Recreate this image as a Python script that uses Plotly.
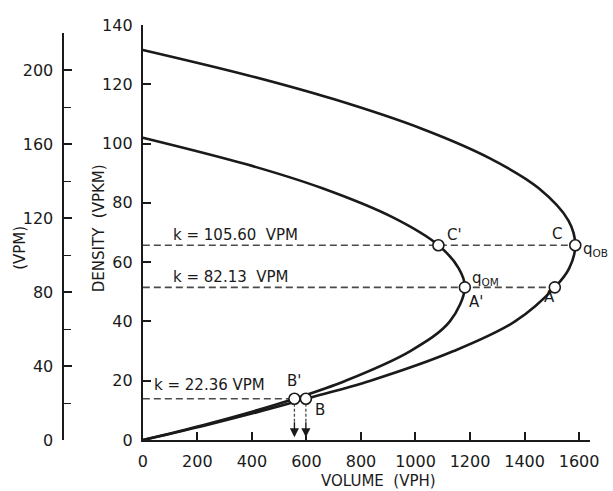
import plotly.graph_objects as go

# ---- data ----
outer_k = [0, 5, 10, 13.9, 20, 30, 40, 51.5, 58, 65.7, 74, 85, 95, 105, 115, 123, 131.6]
outer_q = [0, 232, 445, 598, 835, 1140, 1365, 1511, 1564, 1586, 1561, 1451, 1273, 1023, 699, 387, 0]

inner_k = [0, 5, 10, 13.9, 20, 30, 40, 51.5, 58, 65.7, 75, 85, 93, 102]
inner_q = [0, 220, 418, 556, 744, 981, 1126, 1181, 1158, 1084, 919, 656, 380, 0]

# key points: C', C, A', A, B', B
point_names = ["C'", "C", "A'", "A", "B'", "B"]
point_q = [1084, 1586, 1181, 1511, 556, 598]
point_k = [65.7, 65.7, 51.5, 51.5, 13.9, 13.9]

# dashed reference densities (VPKM) and their labels (VPM)
level_k = [65.7, 51.5, 13.9]
level_end_q = [1586, 1511, 598]
level_labels = ["k = 105.60  VPM", "k = 82.13  VPM", "k = 22.36 VPM"]

x_ticks = [0, 200, 400, 600, 800, 1000, 1200, 1400, 1600]
y_ticks = [0, 20, 40, 60, 80, 100, 120, 140]
vpm_ticks = [0, 40, 80, 120, 160, 200]

INK = "#1a1a1a"
DASH = "#4a4a4a"
FONT = "DejaVu Sans"

fig = go.Figure()

# dashed horizontal density levels
for k, qe in zip(level_k, level_end_q):
    fig.add_trace(go.Scatter(x=[0, qe], y=[k, k], mode="lines",
                             line=dict(color=DASH, width=1.6, dash="7px,4px"),
                             hoverinfo="skip", showlegend=False))

# dashed drops from B' and B, ending in arrowheads
for q in point_q[4:]:
    fig.add_trace(go.Scatter(x=[q, q], y=[point_k[4], 6], mode="lines",
                             line=dict(color=DASH, width=1.3, dash="3px,2px"),
                             hoverinfo="skip", showlegend=False))
    fig.add_annotation(x=q, y=0.9, ax=q, ay=6.5, xref="x", yref="y",
                       axref="x", ayref="y", showarrow=True, arrowhead=2,
                       arrowsize=1.3, arrowwidth=1.4, arrowcolor=INK, text="")

# curves
fig.add_trace(go.Scatter(x=outer_q, y=outer_k, mode="lines", line_shape="spline",
                         line=dict(color=INK, width=2.6), hoverinfo="skip", showlegend=False))
fig.add_trace(go.Scatter(x=inner_q, y=inner_k, mode="lines", line_shape="spline",
                         line=dict(color=INK, width=2.6), hoverinfo="skip", showlegend=False))

# open circle markers
fig.add_trace(go.Scatter(x=point_q, y=point_k, mode="markers",
                         marker=dict(size=11, color="white", line=dict(color=INK, width=1.6)),
                         hoverinfo="skip", showlegend=False))

# invisible trace for the VPM scale
fig.add_trace(go.Scatter(x=[0], y=[0], xaxis="x2", yaxis="y2", mode="markers",
                         marker=dict(opacity=0), hoverinfo="skip", showlegend=False))

PW = 590.0   # plot area width in px (l=0, r=23)
PH = 415.0   # plot area height in px (t=25, b=51)

def px(xp):
    return xp / PW

def py(yp):
    return (440 - yp) / PH

ann_font = dict(family=FONT, size=15, color=INK)

# level labels
label_pos = [(104, 69.0), (104, 55.0), (35, 18.6)]
for (lx, ly), t in zip(label_pos, level_labels):
    fig.add_annotation(x=lx, y=ly, xref="x", yref="y", text=t, showarrow=False,
                       xanchor="left", yanchor="middle", font=ann_font)

# point labels
pt_labels = [
    ("C'", 1142, 69.3, "center"),
    ("C", 1520, 69.5, "center"),
    ("A'", 1222, 46.6, "center"),
    ("A", 1491, 48.2, "center"),
    ("B'", 556, 19.9, "center"),
    ("B", 651, 10.1, "center"),
    ("q<sub>OB</sub>", 1608, 64.2, "left"),
    ("q<sub>OM</sub>", 1200, 54.6, "left"),
]
for t, lx, ly, xa in pt_labels:
    fig.add_annotation(x=lx, y=ly, xref="x", yref="y", text=t, showarrow=False,
                       xanchor=xa, yanchor="middle", font=ann_font)

# axis titles
fig.add_annotation(x=px(377), y=py(481), xref="paper", yref="paper", text="VOLUME  (VPH)",
                   xanchor="center", yanchor="middle",
                   showarrow=False, font=dict(family=FONT, size=15, color=INK))
fig.add_annotation(x=px(95), y=py(228), xref="paper", yref="paper", text="DENSITY  (VPKM)",
                   xanchor="center", yanchor="middle",
                   textangle=-90, showarrow=False, font=dict(family=FONT, size=15, color=INK))
fig.add_annotation(x=px(15), y=py(248), xref="paper", yref="paper", text="(VPM)",
                   xanchor="center", yanchor="middle",
                   textangle=-90, showarrow=False, font=dict(family=FONT, size=15, color=INK))

tickfont = dict(family=FONT, size=16, color=INK)

fig.update_layout(
    width=613, height=491,
    margin=dict(l=0, r=23, t=25, b=51),
    paper_bgcolor="white", plot_bgcolor="white",
    font=dict(family=FONT, color=INK),
    xaxis=dict(domain=[px(139), 1], range=[0, 1640], tickvals=x_ticks,
               ticks="inside", ticklen=8, tickwidth=1.5, tickcolor=INK,
               showline=True, linewidth=2, linecolor=INK, showgrid=False, zeroline=False,
               tickfont=tickfont, ticklabelstandoff=6, anchor="y"),
    yaxis=dict(domain=[0, 1], range=[0, 140], tickvals=y_ticks,
               ticks="inside", ticklen=8, tickwidth=1.5, tickcolor=INK,
               showline=True, linewidth=2, linecolor=INK, showgrid=False, zeroline=False,
               tickfont=tickfont, ticklabelstandoff=5, anchor="x"),
    xaxis2=dict(domain=[px(60), px(60) + 0.02], range=[0, 1], visible=False, anchor="y2"),
    yaxis2=dict(domain=[0, py(33)], range=[0, 220], tickvals=vpm_ticks,
                ticks="inside", ticklen=8, tickwidth=1.5, tickcolor=INK,
                minor=dict(dtick=20, ticks="inside", ticklen=7, tickwidth=1.3, tickcolor=INK),
                showline=True, linewidth=2, linecolor=INK, showgrid=False, zeroline=False,
                tickfont=tickfont, ticklabelstandoff=6, anchor="x2", side="left"),
)

fig.write_html("out.html", config={"displayModeBar": False},
               post_script="document.body.style.margin='0';document.body.style.overflow='hidden';")
